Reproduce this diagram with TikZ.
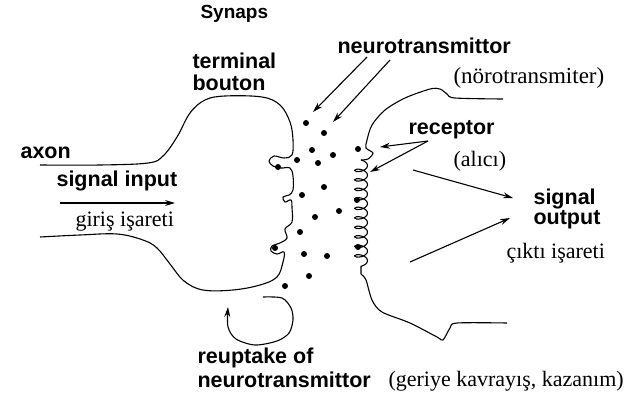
\documentclass[tikz,border=0pt]{standalone}
\usepackage{fontspec}
\setmainfont{Liberation Serif}
\newfontfamily\labelfont{Liberation Sans}
\usetikzlibrary{arrows.meta,decorations.pathmorphing}

\begin{document}
\begin{tikzpicture}[x=1pt,y=-1pt,line width=1.1pt,line join=round,
  >={Stealth[length=10pt,width=6pt]},
  label node/.style={font=\labelfont\bfseries\fontsize{21.5}{18}\selectfont,inner sep=0pt,anchor=base west},
  turkish node/.style={font=\fontsize{22}{25}\selectfont,inner sep=0pt,anchor=base west},
  vesicle/.style={circle,fill,inner sep=0pt,minimum size=6pt}]

  \useasboundingbox (0,0) rectangle (627,394);

  % labels
  \node[label node,font=\labelfont\bfseries\fontsize{19}{22}\selectfont] (syn) at (200,18) {Synaps};
  \node[label node] (term) at (192,68) {terminal};
  \node[label node] (bout) at (192,90) {bouton};
  \node[label node] (nt) at (337,53) {neurotransmittor};
  \node[turkish node,font=\fontsize{23}{25}\selectfont] (ntTr) at (453,83) {(nörotransmiter)};
  \node[label node] (rec) at (408,134) {receptor};
  \node[turkish node] (recTr) at (453,166) {(alıcı)};
  \node[label node] (axon) at (20,158) {axon};
  \node[label node] (in) at (56,186) {signal input};
  \node[turkish node] (inTr) at (75,226) {giriş işareti};
  \node[label node] (out1) at (533,204) {signal};
  \node[label node] (out2) at (533,224) {output};
  \node[turkish node] (outTr) at (506,258) {çıktı işareti};
  \node[label node] (re1) at (197,363) {reuptake of};
  \node[label node] (re2) at (197,387) {neurotransmittor};
  \node[turkish node] (reTr) at (388,386) {(geriye kavrayış, kazanım)};

  % presynaptic terminal
  \draw plot[smooth,tension=0.6] coordinates {(40,165) (100,165) (148,163) (163,156)
    (177,137) (190,113) (205,100) (225,96) (262,97) (280,105) (290,122) (293,140)
    (292,155) (284,158) (274,156) (269,161) (273,166) (281,168) (290,168) (293,176)
    (293,190) (289,195) (283,197) (285,202) (291,200) (292,208) (292,222) (285,229)
    (287,238) (280,243) (272,246) (271,251) (277,254) (284,252) (283,262) (277,277)
    (260,285) (233,290) (203,290) (184,281) (170,264) (157,248) (143,240) (117,234)
    (80,235) (40,237)};

  % postsynaptic side with receptors
  \draw plot[smooth] coordinates {(503,99) (455,98) (447,94) (440,89) (430,89) (405,98)
    (385,110) (372,125) (367,140) (366,148) (373,153) (368,159) (361,160)};
  \draw[decorate,decoration={coil,amplitude=6.5pt,segment length=9.5pt,aspect=0.5}]
    (361,160) -- (361,274);
  \draw plot[smooth] coordinates {(361,274) (366,280) (372,300) (382,312) (410,323)
    (437,337) (443,340) (450,328) (457,323) (507,323)};

  % neurotransmitter
  \foreach \p [count=\i] in {(306,123),(324,133),(312,150),(333,155),(297,160),(318,163),
      (278,167),(324,187),(302,195),(339,211),(315,217),(300,232),(275,248),(304,254),
      (327,256),(309,276),(285,286),(358,149),(357,200),(358,247)}
    \node[vesicle] (v\i) at \p {};

  % arrows
  \coordinate (a1) at (367,57);  \coordinate (a1e) at (313,112);
  \coordinate (a2) at (390,60);  \coordinate (a2e) at (333,122);
  \coordinate (b0) at (428,141); \coordinate (b1) at (380,147); \coordinate (b2) at (370,172);
  \coordinate (c1) at (413,170); \coordinate (c1e) at (513,198);
  \coordinate (c2) at (410,262); \coordinate (c2e) at (510,218);
  \coordinate (s0) at (60,203);  \coordinate (s1) at (175,203);
  \coordinate (r0) at (263,297); \coordinate (r1) at (228,307);

  \draw[->] (a1) -- (a1e);
  \draw[->] (a2) -- (a2e);
  \draw[->] (b0) -- (b1);
  \draw[->] (b0) -- (b2);
  \draw[->] (c1) -- (c1e);
  \draw[->] (c2) -- (c2e);
  \draw[->] (s0) -- (s1);
  \draw[->] plot[smooth] coordinates {(r0) (282,298) (291,308) (293,320) (289,333)
    (277,341) (255,345) (236,339) (228,327) (r1)};

\end{tikzpicture}
\end{document}
